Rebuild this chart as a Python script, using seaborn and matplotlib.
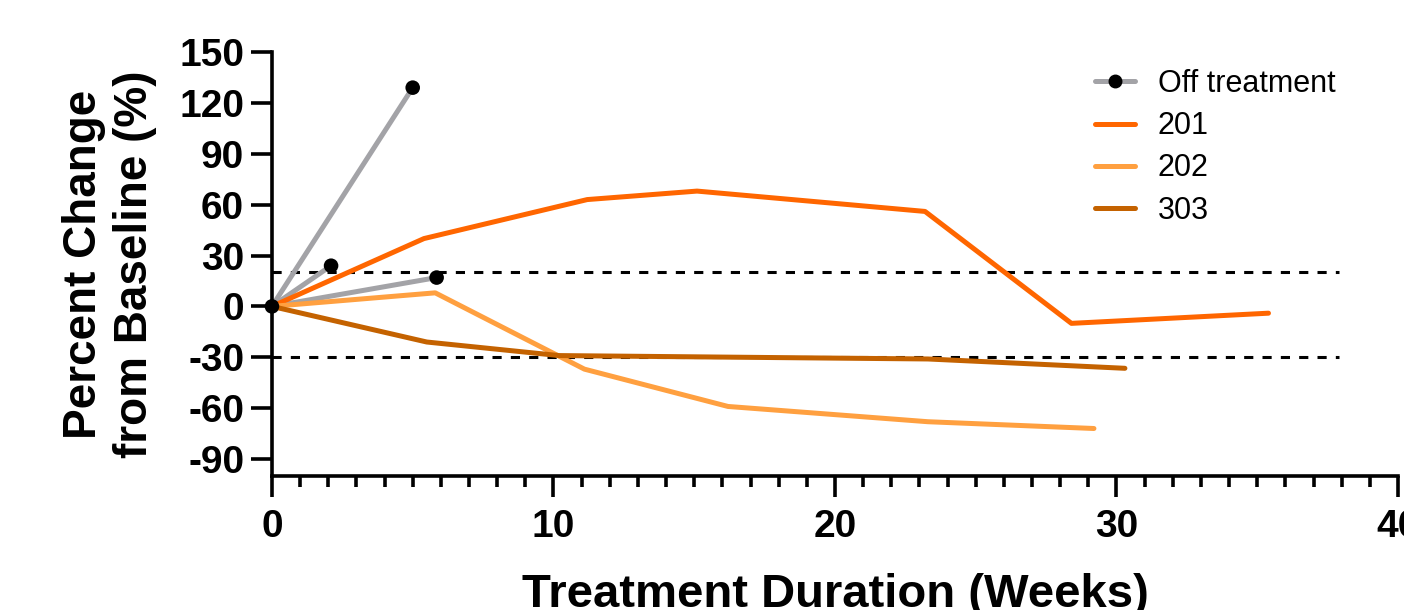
import numpy as np
import matplotlib
matplotlib.use("Agg")
import matplotlib.pyplot as plt
from matplotlib.lines import Line2D
from matplotlib.ticker import MultipleLocator
import seaborn as sns

# off treatment patients (grey lines, dot at last visit)
off_weeks = [[0, 5.0], [0, 2.1], [0, 5.85]]
off_change = [[0, 129], [0, 24], [0, 17]]

# subjects still on treatment
weeks_201 = [0, 5.4, 11.2, 15.1, 23.2, 28.4, 35.4]
change_201 = [0, 40, 63, 68, 56, -10, -4]
weeks_202 = [0, 5.8, 11.1, 16.2, 23.3, 29.2]
change_202 = [0, 8, -37, -59, -68, -72]
weeks_303 = [0, 5.5, 10.2, 23.3, 30.3]
change_303 = [0, -21, -29, -31, -36.5]

ref_lines = [20, -30]
col_off = "#a3a3a7"
colors = {"201": "#ff6600", "202": "#ffa040", "303": "#c46200"}

sns.set_style("ticks")
plt.rcParams['font.family'] = ['Liberation Sans', 'DejaVu Sans']
plt.rcParams['axes.unicode_minus'] = False
for k in ["text.color", "axes.labelcolor", "xtick.color", "ytick.color", "axes.edgecolor"]:
    plt.rcParams[k] = "black"

fig = plt.figure(figsize=(14.04, 6.10), dpi=100)
ax = fig.add_axes([0.1937, 0.2197, 0.802, 0.695])

for i in range(len(off_weeks)):
    sns.lineplot(x=off_weeks[i], y=off_change[i], color=col_off, lw=3.6, sort=False, ax=ax)

series = {"201": (weeks_201, change_201), "202": (weeks_202, change_202), "303": (weeks_303, change_303)}
for name, (w, c) in series.items():
    sns.lineplot(x=w, y=c, color=colors[name], lw=3.6, sort=False, ax=ax)

# end-point dots for off treatment
end_x = [0] + [w[-1] for w in off_weeks]
end_y = [0] + [c[-1] for c in off_change]
sns.scatterplot(x=end_x, y=end_y, color="black", s=110, edgecolor="none", zorder=5, ax=ax, clip_on=False)

for y in ref_lines:
    ax.plot([0, 37.9], [y, y], color="black", lw=2.2, ls=(0, (3, 3)), zorder=1)

ax.set_xlim(0, 40)
ax.set_ylim(-100, 150)
ax.spines["top"].set_visible(False)
ax.spines["right"].set_visible(False)
for s in ["left", "bottom"]:
    ax.spines[s].set_linewidth(2.6)
ax.set_xticks([0, 10, 20, 30, 40])
ax.xaxis.set_minor_locator(MultipleLocator(1))
ax.set_yticks(np.arange(-90, 151, 30))
ax.tick_params(axis="both", which="major", width=2.6, length=15, labelsize=28)
ax.tick_params(axis="x", which="minor", width=2.6, length=8)
for t in ax.get_xticklabels() + ax.get_yticklabels():
    t.set_fontweight("bold")
ax.tick_params(axis="y", pad=5)
ax.tick_params(axis="x", pad=9)

ax.set_xlabel("Treatment Duration (Weeks)", fontsize=34, fontweight="bold", labelpad=20)
ax.set_ylabel("Percent Change\nfrom Baseline (%)", fontsize=33, fontweight="bold", labelpad=16, linespacing=1.2)

handles = [Line2D([0], [0], color=col_off, lw=3.6, marker="o", markersize=9,
                  markerfacecolor="black", markeredgecolor="black")]
labels = ["Off treatment"]
for name in series:
    handles.append(Line2D([0], [0], color=colors[name], lw=3.6))
    labels.append(name)
leg = fig.legend(handles, labels, loc="upper left", bbox_to_anchor=(1095 / 1404, 1 - 69 / 610), frameon=False,
                 fontsize=22, handlelength=1.3, handletextpad=0.75, labelspacing=0.4,
                 borderpad=0, borderaxespad=0)

fig.savefig("out.png", dpi=100)
